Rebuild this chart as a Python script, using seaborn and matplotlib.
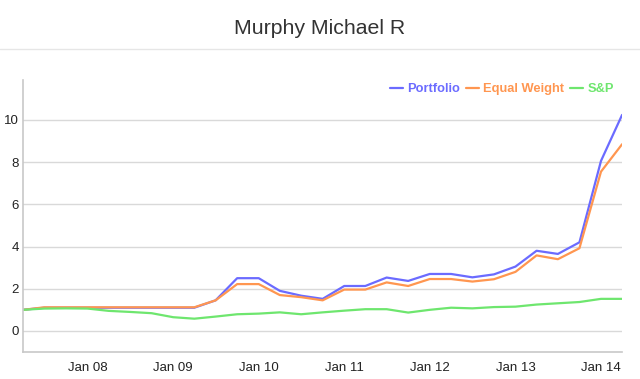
import numpy as np
import pandas as pd
import matplotlib
matplotlib.use("Agg")
import matplotlib.pyplot as plt
import matplotlib.dates as mdates
import seaborn as sns

# quarterly values, Apr 2007 .. Apr 2014
dates = pd.date_range("2007-04-01", periods=29, freq="QS")
portfolio = [1.0, 1.1, 1.1, 1.1, 1.1, 1.1, 1.1, 1.1, 1.1, 1.45, 2.5, 2.5, 1.9, 1.67, 1.52,
             2.13, 2.13, 2.53, 2.37, 2.7, 2.7, 2.54, 2.68, 3.05, 3.8, 3.65, 4.2, 8.06, 10.24]
equal_weight = [1.0, 1.12, 1.12, 1.12, 1.12, 1.12, 1.12, 1.12, 1.12, 1.45, 2.22, 2.22, 1.7, 1.6, 1.45,
                1.96, 1.96, 2.3, 2.13, 2.46, 2.46, 2.34, 2.45, 2.8, 3.58, 3.4, 3.92, 7.55, 8.85]
sp = [1.0, 1.06, 1.07, 1.06, 0.95, 0.9, 0.84, 0.65, 0.58, 0.68, 0.79, 0.82, 0.88, 0.79, 0.88,
      0.96, 1.03, 1.03, 0.87, 1.0, 1.1, 1.07, 1.13, 1.15, 1.25, 1.31, 1.37, 1.52, 1.52]
series = ["Portfolio", "Equal Weight", "S&P"]
colors = ["#6b6bff", "#ff9650", "#6ee66e"]

df = pd.DataFrame({
    "date": list(dates) * 3,
    "value": portfolio + equal_weight + sp,
    "series": [s for s in series for _ in dates],
})

sns.set_theme(style="white")
plt.rcParams["font.family"] = ["Liberation Sans", "DejaVu Sans"]

fig = plt.figure(figsize=(6.4, 3.79), dpi=100)
ax = fig.add_axes([0.036, 0.0712, 0.936, 0.718])

sns.lineplot(data=df, x="date", y="value", hue="series", hue_order=series,
             palette=colors, linewidth=1.6, ax=ax)

ax.set_xlim(dates[0], dates[-1])
ax.set_ylim(-1, 11.9)
ax.set_yticks([0, 2, 4, 6, 8, 10])
ax.yaxis.grid(True, color="#d9d9d9", linewidth=1)
ax.set_axisbelow(True)
ax.set_xlabel("")
ax.set_ylabel("")

ax.xaxis.set_major_locator(mdates.YearLocator())
ax.xaxis.set_major_formatter(mdates.DateFormatter("Jan %y"))
ax.tick_params(axis="both", length=0, labelsize=9.5, colors="#222222")
ax.tick_params(axis="x", pad=7)
ax.tick_params(axis="y", pad=3)

for side in ["top", "right"]:
    ax.spines[side].set_visible(False)
for side in ["left", "bottom"]:
    ax.spines[side].set_color("#c8c8c8")
    ax.spines[side].set_linewidth(1.2)

leg = ax.legend(loc="upper right", bbox_to_anchor=(0.995, 1.006), ncol=3, frameon=False,
                handlelength=1.0, handletextpad=0.35, columnspacing=0.45, borderaxespad=0,
                labelcolor="linecolor", prop={"weight": "bold", "size": 9.3})

fig.text(0.5, 0.926, "Murphy Michael R", ha="center", va="center", fontsize=15.3, color="#333333")
fig.add_artist(plt.Line2D([0, 1], [0.871, 0.871], color="#e6e6e6", linewidth=1))

fig.savefig("out.png", dpi=100)
